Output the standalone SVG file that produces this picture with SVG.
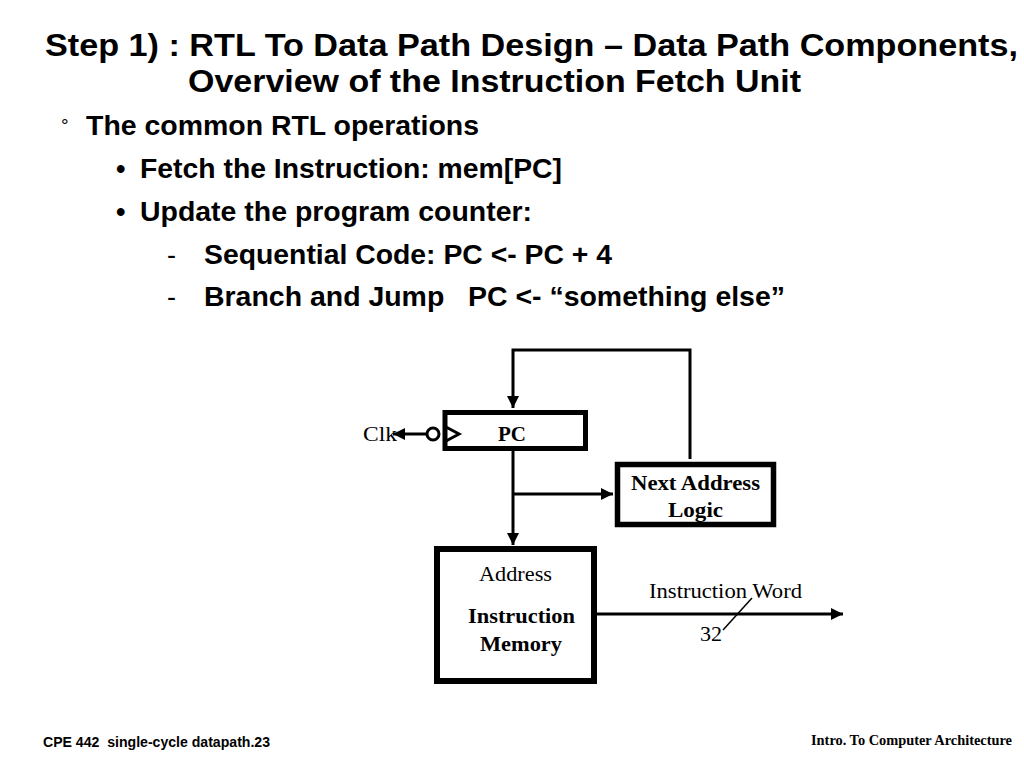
<svg xmlns="http://www.w3.org/2000/svg" width="1024" height="768" viewBox="0 0 1024 768">
<defs>
<style>
.t{font-family:"Liberation Sans",Arial,sans-serif;font-weight:bold;fill:#000}
.s{font-family:"Liberation Serif","Times New Roman",serif;fill:#000;font-size:21px}
.b{font-weight:bold}
.box{fill:#fff;stroke:#000}
.w{fill:none;stroke:#000;stroke-width:3}
</style>
<marker id="ah" viewBox="0 0 10 10" refX="10" refY="5" markerWidth="4" markerHeight="4" orient="auto" markerUnits="strokeWidth">
<path d="M0,0 L10,5 L0,10 z" fill="#000"/>
</marker>
</defs>
<rect width="1024" height="768" fill="#fff"/>
<g id="title">
<text class="t" x="45" y="56" font-size="32" textLength="973" lengthAdjust="spacingAndGlyphs">Step 1) : RTL To Data Path Design – Data Path Components,</text>
<text class="t" x="188" y="92" font-size="32" textLength="613" lengthAdjust="spacingAndGlyphs">Overview of the Instruction Fetch Unit</text>
</g>
<g id="bullets" class="t" font-size="27">
<text x="61" y="132" font-size="19" font-weight="normal">°</text>
<text x="86" y="135" textLength="393" lengthAdjust="spacingAndGlyphs">The common RTL operations</text>
<text x="116" y="178">•</text>
<text x="140" y="178" textLength="422" lengthAdjust="spacingAndGlyphs">Fetch the Instruction: mem[PC]</text>
<text x="116" y="221">•</text>
<text x="140" y="221" textLength="392" lengthAdjust="spacingAndGlyphs">Update the program counter:</text>
<text x="167" y="264" font-weight="normal">-</text>
<text x="204" y="264" textLength="408" lengthAdjust="spacingAndGlyphs">Sequential Code: PC &lt;- PC + 4</text>
<text x="167" y="306" font-weight="normal">-</text>
<text x="204" y="306" xml:space="preserve" textLength="581" lengthAdjust="spacingAndGlyphs">Branch and Jump   PC &lt;- “something else”</text>
</g>
<g id="connectors">
<polyline class="w" points="690,459 690,350 513,350 513,408" marker-end="url(#ah)"/>
<line class="w" x1="513" y1="451" x2="513" y2="545" marker-end="url(#ah)"/>
<line class="w" x1="513" y1="494" x2="613" y2="494" marker-end="url(#ah)"/>
<line class="w" x1="597" y1="614" x2="843" y2="614" marker-end="url(#ah)"/>
<line x1="752" y1="598" x2="723" y2="630" stroke="#000" stroke-width="1.5"/>
<line class="w" x1="427" y1="434" x2="393" y2="434" marker-end="url(#ah)"/>
</g>
<g id="pc">
<rect class="box" x="445" y="412.5" width="140.5" height="36" stroke-width="5"/>
<circle cx="433" cy="434" r="6" fill="#fff" stroke="#000" stroke-width="3"/>
<polyline points="446,427 459,434 446,441" fill="none" stroke="#000" stroke-width="3"/>
<text class="s b" x="498" y="441" textLength="28" lengthAdjust="spacingAndGlyphs">PC</text>
</g>
<g id="clk">
<text class="s" x="363" y="441" textLength="34" lengthAdjust="spacingAndGlyphs">Clk</text>
</g>
<g id="nal">
<rect class="box" x="617.5" y="464.5" width="156" height="60" stroke-width="5.5"/>
<text class="s b" x="631" y="490" textLength="129" lengthAdjust="spacingAndGlyphs">Next Address</text>
<text class="s b" x="668" y="517" textLength="55" lengthAdjust="spacingAndGlyphs">Logic</text>
</g>
<g id="imem">
<rect class="box" x="437" y="549" width="157" height="132" stroke-width="6"/>
<text class="s" x="479" y="581" textLength="73" lengthAdjust="spacingAndGlyphs">Address</text>
<text class="s b" x="468" y="623" textLength="107" lengthAdjust="spacingAndGlyphs">Instruction</text>
<text class="s b" x="480" y="651" textLength="82" lengthAdjust="spacingAndGlyphs">Memory</text>
</g>
<g id="labels">
<text class="s" x="649" y="598" textLength="153" lengthAdjust="spacingAndGlyphs">Instruction Word</text>
<text class="s" x="700" y="641" textLength="22" lengthAdjust="spacingAndGlyphs">32</text>
</g>
<g id="footer">
<text class="t" x="43" y="747" font-size="14" xml:space="preserve" textLength="227" lengthAdjust="spacingAndGlyphs">CPE 442  single-cycle datapath.23</text>
<text class="s b" x="811" y="745" style="font-size:14px" textLength="201" lengthAdjust="spacingAndGlyphs">Intro. To Computer Architecture</text>
</g>
</svg>
